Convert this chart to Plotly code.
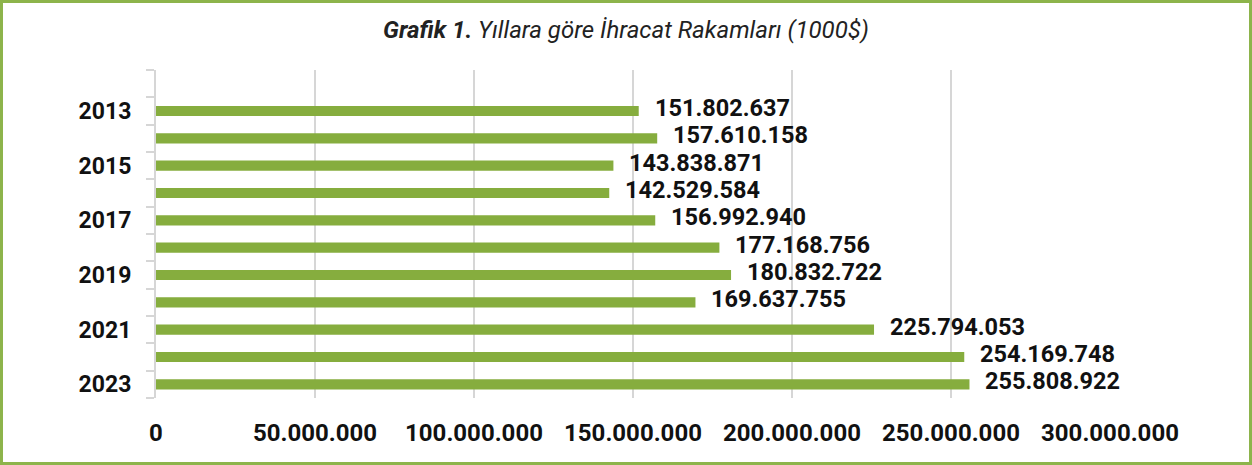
import plotly.graph_objects as go

years = [2013, 2014, 2015, 2016, 2017, 2018, 2019, 2020, 2021, 2022, 2023]
exports = [151802637, 157610158, 143838871, 142529584, 156992940, 177168756,
           180832722, 169637755, 225794053, 254169748, 255808922]
label_years = [2013, 2015, 2017, 2019, 2021, 2023]
x_ticks = [0, 50000000, 100000000, 150000000, 200000000, 250000000, 300000000]

W, H = 1252, 465
L, R, T, B = 156, 142, 70, 67
PW, PH = W - L - R, H - T - B

bar_color = "#86ad3e"
border_color = "#8db44b"
grid_color = "#d6d6d6"
font_fam = "Roboto, 'Noto Sans', sans-serif"

def fmt(v):
    return f"{v:,}".replace(",", ".")

fig = go.Figure()
fig.add_trace(go.Bar(
    x=exports, y=years, orientation="h", width=0.37,
    marker=dict(color=bar_color, line=dict(width=0)),
    hoverinfo="skip",
))

annotations = []
for v, yr in zip(exports, years):
    annotations.append(dict(
        x=v, y=yr, xref="x", yref="y", text=f"<b>{fmt(v)}</b>",
        showarrow=False, xanchor="left", yanchor="middle",
        xshift=14, yshift=3,
        font=dict(family=font_fam, size=23.5, color="#111111"),
    ))

fig.update_layout(
    width=W, height=H,
    margin=dict(l=L, r=R, t=T, b=B, pad=0),
    paper_bgcolor="white", plot_bgcolor="white",
    separators=",.",
    showlegend=False,
    title=dict(
        text="<b><i>Grafik 1.</i></b><i> Yıllara göre İhracat Rakamları (1000$)</i>",
        x=0.5, xanchor="center", y=1 - 30 / H, yanchor="middle",
        font=dict(family=font_fam, size=24, color="#222222"),
    ),
    annotations=annotations,
    shapes=[dict(
        type="rect", xref="paper", yref="paper",
        x0=(1.5 - L) / PW, x1=(W - 1.5 - L) / PW,
        y0=(H - T - B - (H - 1.5 - T)) / PH, y1=(H - B - 1.5) / PH,
        line=dict(color=border_color, width=3), fillcolor="rgba(0,0,0,0)",
        layer="below",
    )],
    xaxis=dict(
        range=[0, 300000000], tickmode="array", tickvals=x_ticks,
        tickformat=",d", showgrid=True, gridcolor=grid_color, gridwidth=2,
        zeroline=False, showline=False, ticks="",
        ticklabelstandoff=18,
        tickfont=dict(family=font_fam, size=24, color="#111111", weight="bold"),
    ),
    yaxis=dict(
        range=[2023.5, 2011.5], tickmode="array", tickvals=label_years,
        ticktext=[str(y) for y in label_years],
        showgrid=False, zeroline=False,
        showline=True, linecolor=grid_color, linewidth=2,
        ticks="", ticklabelstandoff=18,
        tickfont=dict(family=font_fam, size=23, color="#111111", weight="bold"),
        minor=dict(tickmode="linear", tick0=2011.5, dtick=1, ticks="outside",
                   ticklen=8, tickwidth=2, tickcolor=grid_color, showgrid=False),
    ),
)

fig.write_html("out.html", config={"displayModeBar": False},
               post_script="document.body.style.margin='0';")
